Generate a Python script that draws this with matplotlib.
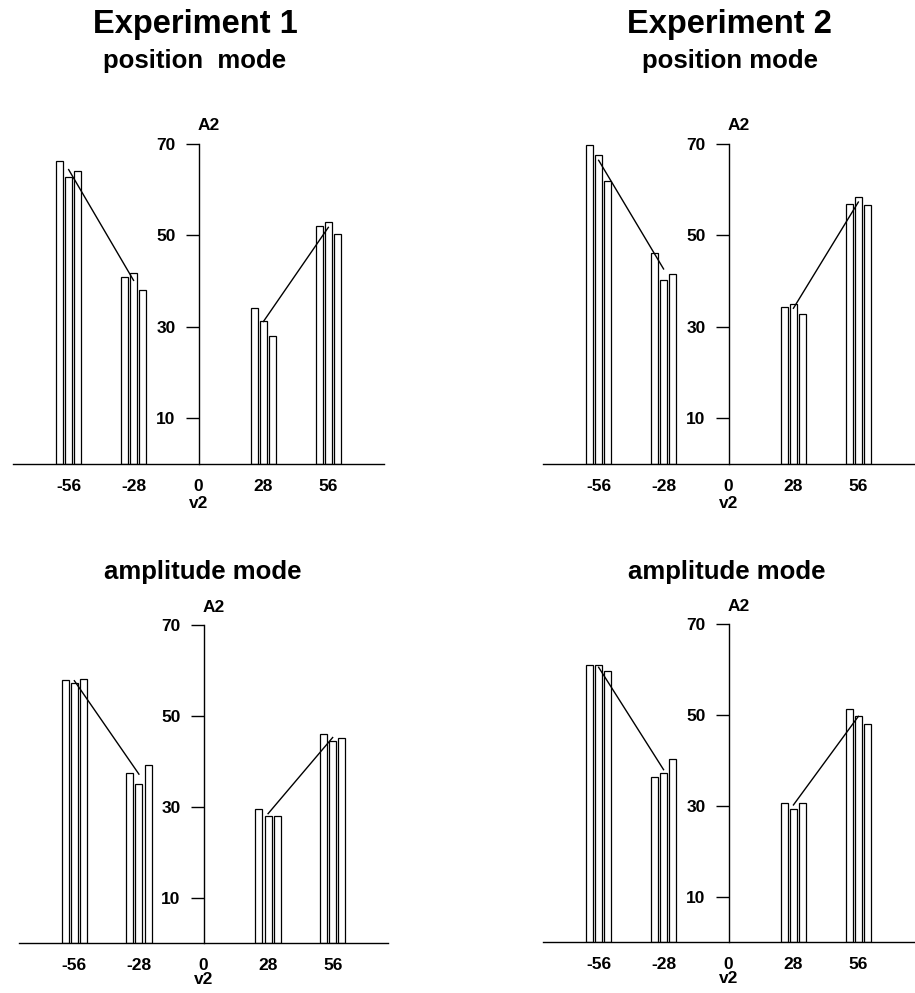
import matplotlib
matplotlib.use('Agg')
import matplotlib.pyplot as plt
import numpy as np

plt.rcParams['font.family'] = ['Liberation Sans', 'DejaVu Sans']
plt.rcParams['axes.unicode_minus'] = False

W, H = 915, 993

v2_levels = [-56, -28, 28, 56]
bar_offsets = [-4, 0, 4]
bar_width = 3.0

# A2 of the three runs at each v2 level
exp1_position = [[66.2, 62.8, 64.2], [40.8, 41.7, 38.0], [34.1, 31.3, 28.1], [52.0, 53.0, 50.3]]
exp2_position = [[69.7, 67.7, 61.9], [46.2, 40.3, 41.5], [34.3, 35.0, 32.9], [56.8, 58.4, 56.7]]
exp1_amplitude = [[57.9, 57.2, 58.1], [37.4, 35.0, 39.1], [29.6, 27.9, 27.9], [46.0, 44.5, 45.2]]
exp2_amplitude = [[60.9, 60.9, 59.6], [36.4, 37.2, 40.2], [30.6, 29.3, 30.6], [51.3, 49.7, 48.0]]

y_ticks = [10, 30, 50, 70]
x_ticks = [-56, -28, 0, 28, 56]

fig = plt.figure(figsize=(W / 100, H / 100), dpi=100)


def panel(x0, x1, ytop, ybase, runs, v2_y):
    ax = fig.add_axes([x0 / W, 1 - ybase / H, (x1 - x0) / W, (ybase - ytop) / H])
    ax.set_xlim(-80, 80)
    ax.set_ylim(0, 70)
    for lvl, vals in zip(v2_levels, runs):
        ax.bar([lvl + o for o in bar_offsets], vals, width=bar_width,
               facecolor='white', edgecolor='black', linewidth=0.9, zorder=2)
    means = [np.mean(v) for v in runs]
    # mean lines joining the two negative and the two positive levels
    ax.plot(v2_levels[:2], means[:2], color='black', lw=1.0, zorder=3)
    ax.plot(v2_levels[2:], means[2:], color='black', lw=1.0, zorder=3)

    for s in ['top', 'right']:
        ax.spines[s].set_visible(False)
    ax.spines['left'].set_position(('data', 0))
    ax.spines['left'].set_bounds(0, 70)
    ax.spines['left'].set_linewidth(1.0)
    ax.spines['bottom'].set_linewidth(1.0)
    ax.set_yticks(y_ticks)
    ax.set_xticks(x_ticks)
    ax.tick_params(axis='y', direction='out', length=9.5, width=1.0, pad=7, labelsize=12.5)
    ax.tick_params(axis='x', length=0, pad=11, labelsize=12.5)
    for lab in ax.get_xticklabels() + ax.get_yticklabels():
        lab.set_fontweight('bold')
    ax.text(-0.5, 72.3, 'A2', fontsize=12.5, fontweight='bold', ha='left', va='bottom')
    ax.text(0, v2_y, 'v2', fontsize=12.5, fontweight='bold', ha='center', va='center')
    ax.patch.set_visible(False)
    return ax


panel(13, 384, 144, 464, exp1_position, -8.7)
panel(543, 914, 144, 464, exp2_position, -8.7)
panel(19, 388, 625, 943, exp1_amplitude, -8.1)
panel(543, 914, 624, 942, exp2_amplitude, -8.1)

fig.text(195 / W, 1 - 24 / H, 'Experiment 1', fontsize=23.5, fontweight='bold', ha='center', va='center')
fig.text(195 / W, 1 - 61 / H, 'position  mode', fontsize=18.5, fontweight='bold', ha='center', va='center')
fig.text(729 / W, 1 - 24 / H, 'Experiment 2', fontsize=23.5, fontweight='bold', ha='center', va='center')
fig.text(730 / W, 1 - 61 / H, 'position mode', fontsize=18.5, fontweight='bold', ha='center', va='center')
fig.text(203 / W, 1 - 572 / H, 'amplitude mode', fontsize=18.5, fontweight='bold', ha='center', va='center')
fig.text(727 / W, 1 - 572 / H, 'amplitude mode', fontsize=18.5, fontweight='bold', ha='center', va='center')

fig.savefig('out.png', dpi=100)
